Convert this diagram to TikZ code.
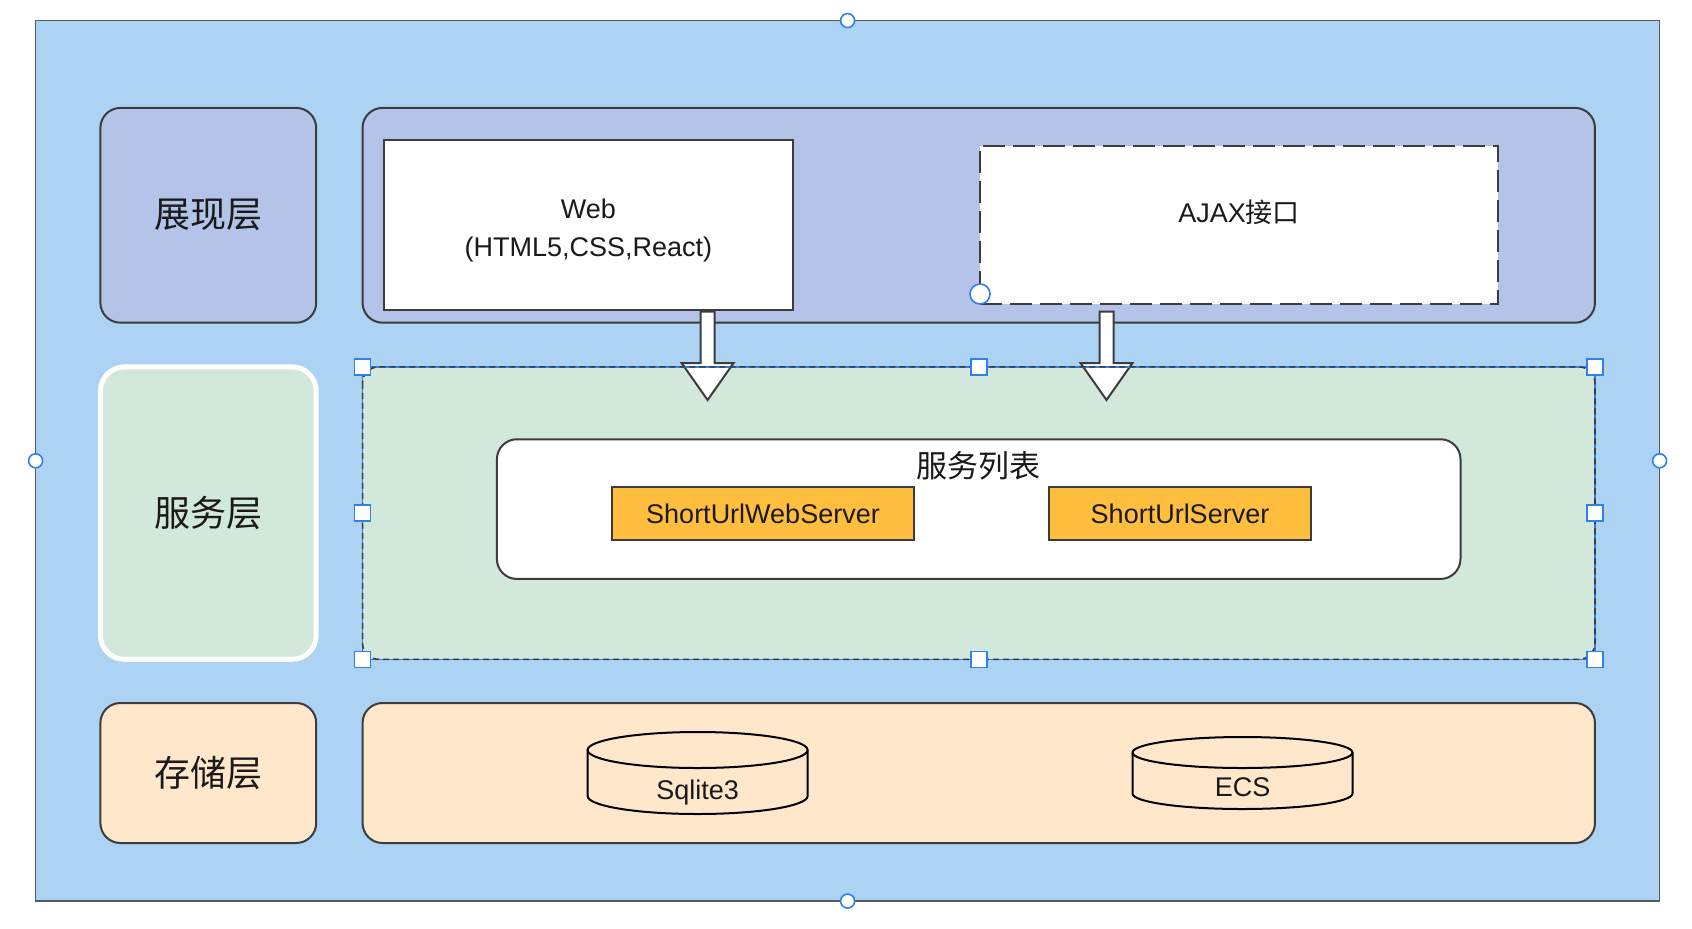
\documentclass[tikz,border=0pt]{standalone}
\usepackage{fontspec}
\setmainfont{Liberation Sans}
\newfontfamily\cjk{Noto Sans CJK SC}
\usetikzlibrary{positioning}
\definecolor{bgblue}{RGB}{172,211,243}
\definecolor{showfill}{RGB}{179,196,232}
\definecolor{svcfill}{RGB}{210,232,218}
\definecolor{storefill}{RGB}{255,231,204}
\definecolor{srvfill}{RGB}{255,190,61}
\definecolor{edgegray}{RGB}{60,60,60}
\definecolor{selblue}{RGB}{47,128,237}
\definecolor{inkgray}{RGB}{26,26,26}

\begin{document}
\begin{tikzpicture}[x=0.5pt, y=-0.5pt, text=inkgray,
    box/.style={draw=edgegray, line width=1pt, inner sep=0pt, outer sep=0pt},
    layer/.style={box, rounded corners=10pt, minimum width=107.9pt, font=\cjk\fontsize{18}{22}\selectfont},
    latin/.style={font=\fontsize{13.5}{19}\selectfont},
    srvbox/.style={box, latin, fill=srvfill, minimum height=26.2pt},
    handle/.style={draw=selblue, fill=white, line width=0.8pt, minimum size=8pt, inner sep=0pt},
    knob/.style={draw=selblue, fill=white, line width=0.8pt, circle, minimum size=7pt, inner sep=0pt},
    hollow/.style={draw=edgegray, fill=white, line width=1pt, line join=miter},
    can/.style={draw=black, fill=storefill, line width=1pt}]
  \useasboundingbox (0,0) rectangle (1692,928);
  \node (frame) [box, draw=edgegray!85, fill=bgblue, line width=0.8pt,
                 minimum width=812pt, minimum height=440.25pt] at (847.6,460.8) {};

  % presentation layer
  \node (showlbl) [layer, fill=showfill, minimum height=107.4pt] at (208.3,215.3) {展现层};
  \node (showbox) [box, fill=showfill, rounded corners=10pt,
                   minimum width=616.2pt, minimum height=107.4pt] at (978.75,215.3) {};
  \node (web) [box, fill=white, minimum width=204.6pt, minimum height=85pt] at (588.4,225) {};
  \node (webtxt) [latin, align=center] at ([yshift=-2.75pt]web.center) {Web\\(HTML5,CSS,React)};
  \node (ajax) [box, latin, fill=white, dash pattern=on 11pt off 4pt, text depth=13.5pt,
                minimum width=259.2pt, minimum height=79pt] at (1239.2,225) {AJAX{\cjk 接口}};

  % service layer
  \node (svclbl) [layer, fill=svcfill, draw=white, line width=2.5pt, rounded corners=12pt,
                  minimum height=146.2pt] at (208.3,513.1) {服务层};
  \node (svc) [box, draw=none, fill=svcfill, rounded corners=8pt,
               minimum width=616.2pt, minimum height=146.2pt] at (978.75,513.1) {};
  \node (svclist) [box, fill=white, rounded corners=10pt,
                   minimum width=481.8pt, minimum height=69.85pt] at (978.7,509.1) {};
  \node (listtitle) [font=\cjk\fontsize{15.5}{18}\selectfont] at (978,466) {服务列表};
  \node (websrv) [srvbox, minimum width=150.6pt] at (763,513.5) {ShortUrlWebServer};
  \node (srv) [srvbox, minimum width=131.35pt] at (1180,513.5) {ShortUrlServer};

  % storage layer
  \node (storelbl) [layer, fill=storefill, minimum height=70pt] at (208.3,773) {存储层};
  \node (storebox) [box, fill=storefill, rounded corners=10pt,
                    minimum width=616.2pt, minimum height=70pt] at (978.75,773) {};
  \draw[can] (587.6,750) -- (587.6,796) arc[start angle=180, end angle=360, x radius=55pt, y radius=9pt]
             -- (807.6,750) arc[start angle=0, end angle=180, x radius=55pt, y radius=9pt] -- cycle;
  \draw[can, fill=none] (587.6,750) arc[start angle=180, end angle=360, x radius=55pt, y radius=9pt];
  \node (sqlite) [latin] at (697.6,793) {Sqlite3};
  \draw[can] (1132.5,752.5) -- (1132.5,793.5) arc[start angle=180, end angle=360, x radius=55pt, y radius=7.75pt]
             -- (1352.5,752.5) arc[start angle=0, end angle=180, x radius=55pt, y radius=7.75pt] -- cycle;
  \draw[can, fill=none] (1132.5,752.5) arc[start angle=180, end angle=360, x radius=55pt, y radius=7.75pt];
  \node (ecs) [latin] at (1242.5,787) {ECS};

  % hollow arrows into the service layer
  \coordinate (webout) at (707.6,311.5);
  \coordinate (ajaxout) at (1106.5,311.5);
  \foreach \c in {webout,ajaxout}
    \draw[hollow] (\c) ++(-7,0) -- ++(14,0) -- ++(0,51.5) -- ++(19,0) -- ++(-26,37)
                  -- ++(-26,-37) -- ++(19,0) -- cycle;

  % selection marks
  \draw[selblue, line width=0.8pt] (svc.north west) rectangle (svc.south east);
  \draw[edgegray, line width=0.8pt, dash pattern=on 3pt off 2pt, rounded corners=8pt]
       (svc.north west) rectangle (svc.south east);
  \foreach \a in {north west,north,north east,west,east,south west,south,south east}
    \node[handle] at (svc.\a) {};
  \foreach \a in {north,south,east,west}
    \node[knob] at (frame.\a) {};
  \node[knob, minimum size=10pt] at ([yshift=5pt]ajax.south west) {};
\end{tikzpicture}
\end{document}
